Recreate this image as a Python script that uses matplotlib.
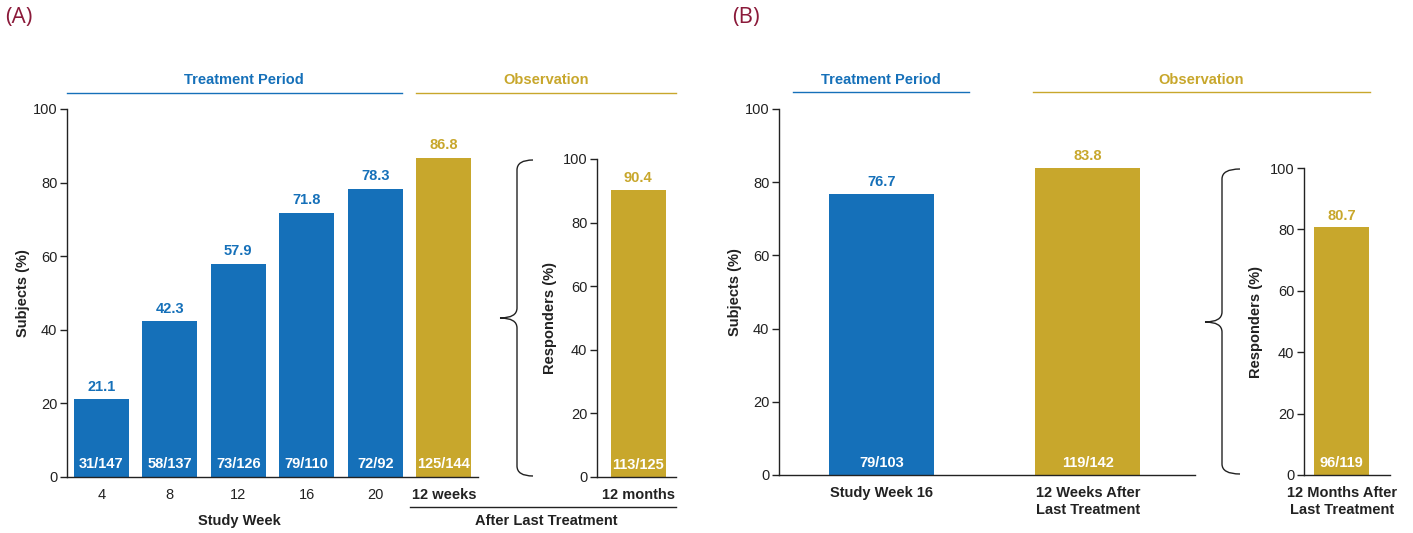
import matplotlib
matplotlib.use("Agg")
import matplotlib.pyplot as plt
from matplotlib.path import Path
from matplotlib.patches import PathPatch
from matplotlib.lines import Line2D
from matplotlib.transforms import Affine2D

plt.rcParams['font.family'] = ['Liberation Sans Narrow', 'Liberation Sans', 'DejaVu Sans']

W, H = 1413, 533
BLUE = '#1570b9'
GOLD = '#c8a72c'
DARK = '#222222'
RED = '#8b1a3a'

# ---- data ----
a_weeks = ['4', '8', '12', '16', '20']
a_week_vals = [21.1, 42.3, 57.9, 71.8, 78.3]
a_week_n = ['31/147', '58/137', '73/126', '79/110', '72/92']
a_obs_label = '12 weeks'
a_obs_val = 86.8
a_obs_n = '125/144'
a_inset_label = '12 months'
a_inset_val = 90.4
a_inset_n = '113/125'

b_cats = ['Study Week 16', '12 Weeks After\nLast Treatment']
b_vals = [76.7, 83.8]
b_n = ['79/103', '119/142']
b_inset_label = '12 Months After\nLast Treatment'
b_inset_val = 80.7
b_inset_n = '96/119'

yticks = [0, 20, 40, 60, 80, 100]

fig = plt.figure(figsize=(W / 100, H / 100), dpi=100)
pix = Affine2D().scale(1 / W, -1 / H).translate(0, 1) + fig.transFigure


def add_ax(l, r, b, t):
    ax = fig.add_axes([l / W, 1 - b / H, (r - l) / W, (b - t) / H])
    for s in ('top', 'right'):
        ax.spines[s].set_visible(False)
    for s in ('left', 'bottom'):
        ax.spines[s].set_color(DARK)
        ax.spines[s].set_linewidth(1.0)
    ax.set_ylim(0, 100)
    ax.set_yticks(yticks)
    ax.tick_params(axis='y', direction='out', length=5, width=1, colors=DARK,
                   labelsize=10.5, pad=2)
    ax.tick_params(axis='x', length=0, labelsize=10.5, colors=DARK, pad=8)
    ax.patch.set_alpha(0)
    return ax


def bar_labels(ax, xs, vals, ns, colors, width):
    bars = ax.bar(xs, vals, width=width, color=colors)
    for x, v, n, c in zip(xs, vals, ns, colors):
        ax.text(x, v + 1.5, f'{v:.1f}', ha='center', va='bottom', color=c,
                fontsize=10.5, fontweight='bold')
        ax.text(x, 1.5, n, ha='center', va='bottom', color='white',
                fontsize=10.5, fontweight='bold')
    return bars


def fig_text(x, y, s, **kw):
    fig.text(x / W, 1 - y / H, s, **kw)


def fig_line(x0, x1, y, color, lw=1.0):
    fig.add_artist(Line2D([x0, x1], [y, y], transform=pix, color=color, lw=lw))


def brace(xp, xv, xe, yt, ym, yb):
    r = 10
    verts = [(xe, yt), (xv, yt), (xv, yt + r),
             (xv, ym - r),
             (xv, ym), (xp, ym),
             (xv, ym), (xv, ym + r),
             (xv, yb - r),
             (xv, yb), (xe, yb)]
    codes = [Path.MOVETO, Path.CURVE3, Path.CURVE3,
             Path.LINETO,
             Path.CURVE3, Path.CURVE3,
             Path.CURVE3, Path.CURVE3,
             Path.LINETO,
             Path.CURVE3, Path.CURVE3]
    fig.add_artist(PathPatch(Path(verts, codes), transform=pix, fill=False,
                             edgecolor=DARK, lw=1.0))


# ================= Panel A =================
axA = add_ax(67, 478, 477, 109)
xs = list(range(len(a_weeks) + 1))
bar_labels(axA, xs, a_week_vals + [a_obs_val], a_week_n + [a_obs_n],
           [BLUE] * len(a_weeks) + [GOLD], 0.8)
axA.set_xlim(-0.5, 5.5)
axA.set_xticks(xs)
axA.set_xticklabels(a_weeks + [a_obs_label])
axA.get_xticklabels()[-1].set_fontweight('bold')
axA.set_ylabel('Subjects (%)', fontsize=10.5, fontweight='bold', color=DARK, labelpad=2)

axA2 = add_ax(597, 676, 477, 159)
bar_labels(axA2, [0], [a_inset_val], [a_inset_n], [GOLD], 0.8)
axA2.set_xlim(-0.6, 0.55)
axA2.set_xticks([0])
axA2.set_xticklabels([a_inset_label], fontweight='bold')
axA2.set_ylabel('Responders (%)', fontsize=10.5, fontweight='bold', color=DARK, labelpad=4)

brace(500, 517, 533, 160, 318, 476)

fig_text(5, 17, '(A)', fontsize=16, color=RED, family=['Open Sans'], va='center', ha='left')
fig_text(244, 80, 'Treatment Period', fontsize=10.5, fontweight='bold', color=BLUE,
         ha='center', va='center')
fig_line(67, 402, 93, BLUE)
fig_text(546, 80, 'Observation', fontsize=10.5, fontweight='bold', color=GOLD,
         ha='center', va='center')
fig_line(416, 676, 93, GOLD)
fig_text(239, 521, 'Study Week', fontsize=10.5, fontweight='bold', color=DARK,
         ha='center', va='center')
fig_line(410, 676, 507, DARK)
fig_text(546, 521, 'After Last Treatment', fontsize=10.5, fontweight='bold', color=DARK,
         ha='center', va='center')

# ================= Panel B =================
axB = add_ax(779, 1195, 475, 109)
bar_labels(axB, [0, 1], b_vals, b_n, [BLUE, GOLD], 0.51)
axB.set_xlim(-0.5, 1.52)
axB.set_xticks([0, 1])
axB.set_xticklabels(b_cats, fontweight='bold', va='top', linespacing=1.3)
axB.set_ylabel('Subjects (%)', fontsize=10.5, fontweight='bold', color=DARK, labelpad=2)

axB2 = add_ax(1304, 1390, 475, 168)
bar_labels(axB2, [0], [b_inset_val], [b_inset_n], [GOLD], 0.8)
axB2.set_xlim(-0.55, 0.70)
axB2.set_xticks([0])
axB2.set_xticklabels([b_inset_label], fontweight='bold', linespacing=1.3)
axB2.set_ylabel('Responders (%)', fontsize=10.5, fontweight='bold', color=DARK, labelpad=5)

brace(1205, 1222, 1240, 169, 322, 474)

fig_text(732, 17, '(B)', fontsize=16, color=RED, family=['Open Sans'], va='center', ha='left')
fig_text(881, 80, 'Treatment Period', fontsize=10.5, fontweight='bold', color=BLUE,
         ha='center', va='center')
fig_line(793, 969, 92, BLUE)
fig_text(1201, 80, 'Observation', fontsize=10.5, fontweight='bold', color=GOLD,
         ha='center', va='center')
fig_line(1033, 1370, 92, GOLD)

fig.savefig('out.png', dpi=100)
